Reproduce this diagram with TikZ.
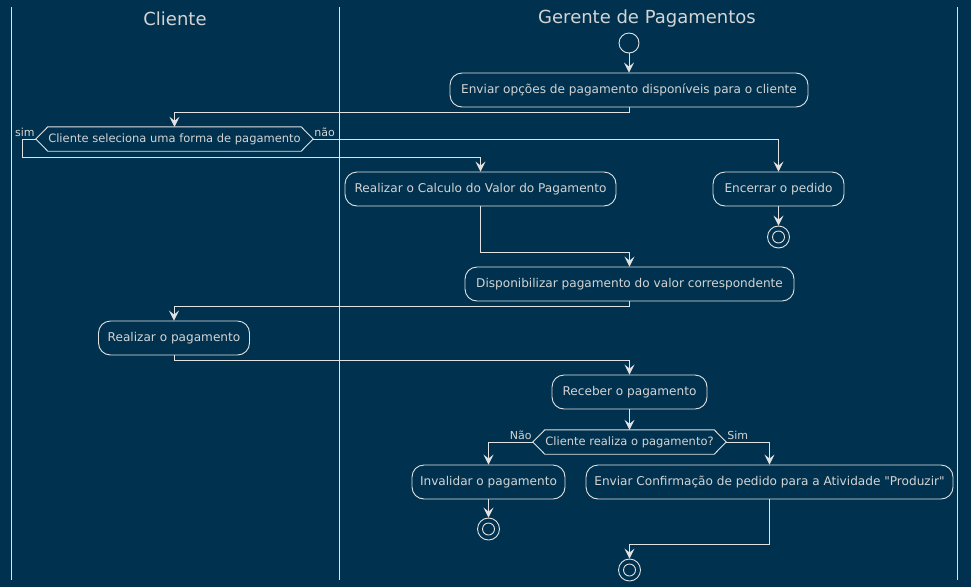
\documentclass[tikz,border=0pt]{standalone}
\usepackage{fontspec}
\setmainfont{DejaVu Sans}[Ligatures=TeXOff]
\usetikzlibrary{arrows.meta,calc}
\definecolor{bg}{HTML}{00324F}
\definecolor{ln}{HTML}{E2E2E2}
\definecolor{tx}{HTML}{D4D4D4}
\tikzset{
  act/.style={draw=ln, line width=0.9pt, rounded corners=12pt, minimum height=34pt, inner sep=0pt, text=tx, font=\fontsize{12.1}{14}\selectfont},
  dec/.style={minimum height=24pt, inner sep=0pt, text=tx, font=\fontsize{11.5}{13}\selectfont},
  hexa/.style={draw=ln, line width=0.9pt},
  lbl/.style={inner sep=1pt, text=tx, font=\fontsize{11}{13}\selectfont},
  arr/.style={draw=ln, line width=0.9pt, -{Stealth[length=10pt,width=10pt,inset=4pt]}},
  lane/.style={draw=ln, line width=0.9pt},
  title/.style={text=tx, font=\fontsize{18}{20}\selectfont},
  startc/.style={circle, draw=ln, line width=0.9pt, minimum size=20pt, inner sep=0pt},
  endc/.style={circle, draw=ln, line width=0.9pt, minimum size=22pt, inner sep=0pt},
  endi/.style={circle, draw=ln, line width=0.9pt, minimum size=12pt, inner sep=0pt},
}
\begin{document}
\begin{tikzpicture}[x=1pt,y=-1pt]
\fill[bg] (0,0) rectangle (971,587);
\useasboundingbox (0,0) rectangle (971,587);
% lanes
\coordinate (l1t) at (11,7); \coordinate (l1b) at (11,580);
\coordinate (l2t) at (339,7); \coordinate (l2b) at (339,580);
\coordinate (l3t) at (957,7); \coordinate (l3b) at (957,580);
\draw[lane] (l1t) -- (l1b);
\draw[lane] (l2t) -- (l2b);
\draw[lane] (l3t) -- (l3b);
\node[title] (t1) at (175,18.5) {Cliente};
\node[title] (t2) at (647,18.5) {Gerente de Pagamentos};
% nodes
\node[startc] (start) at (629,43) {};
\node[act, minimum width=358pt] (b1) at (629,90) {Enviar opções de pagamento disponíveis para o cliente};
\node[dec, minimum width=277pt] (d1) at (174.5,139) {Cliente seleciona uma forma de pagamento};
\draw[hexa] (d1.west) -- ([xshift=12pt]d1.north west) -- ([xshift=-12pt]d1.north east) -- (d1.east) -- ([xshift=-12pt]d1.south east) -- ([xshift=12pt]d1.south west) -- cycle;
\node[act, minimum width=271pt] (calc) at (480.5,189) {Realizar o Calculo do Valor do Pagamento};
\node[act, minimum width=131pt] (enc) at (778.5,189) {Encerrar o pedido};
\node[endc] (e1) at (778.5,237) {};
\node[endi] (e1i) at (778.5,237) {};
\node[act, minimum width=329pt] (disp) at (629.5,284) {Disponibilizar pagamento do valor correspondente};
\node[act, minimum width=151pt] (real) at (174,338) {Realizar o pagamento};
\node[act, minimum width=155pt] (rec) at (629.5,392) {Receber o pagamento};
\node[dec, minimum width=193pt] (d2) at (629.5,442) {Cliente realiza o pagamento?};
\draw[hexa] (d2.west) -- ([xshift=12pt]d2.north west) -- ([xshift=-12pt]d2.north east) -- (d2.east) -- ([xshift=-12pt]d2.south east) -- ([xshift=12pt]d2.south west) -- cycle;
\node[act, minimum width=153pt] (inv) at (488.5,482) {Invalidar o pagamento};
\node[endc] (e2) at (488.5,529) {};
\node[endi] (e2i) at (488.5,529) {};
\node[act, minimum width=367pt] (conf) at (769.5,482) {Enviar Confirmação de pedido para a Atividade "Produzir"};
\node[endc] (e3) at (629.5,570) {};
\node[endi] (e3i) at (629.5,570) {};
% labels
\node[lbl, anchor=south east] (lsim) at ([yshift=1pt]d1.west) {sim};
\node[lbl, anchor=south west] (lnao) at ([yshift=1pt]d1.east) {não};
\node[lbl, anchor=south east] (lNao) at ([yshift=1pt]d2.west) {Não};
\node[lbl, anchor=south west] (lSim) at ([yshift=1pt]d2.east) {Sim};
% connectors
\draw[arr] (start) -- (b1);
\draw[arr] (b1.south) -- ++(0,5) -| (d1.north);
\draw[arr] (d1.west) -- ++(-13,0) -- ++(0,18) -| (calc.north);
\draw[arr] (d1.east) -| (enc.north);
\draw[arr] (enc) -- (e1);
\draw[arr] (calc.south) -- ++(0,46) -| (disp.north);
\draw[arr] (disp.south) -- ++(0,5) -| (real.north);
\draw[arr] (real.south) -- ++(0,5) -| (rec.north);
\draw[arr] (rec) -- (d2);
\draw[arr] (d2.west) -| (inv.north);
\draw[arr] (d2.east) -| (conf.north);
\draw[arr] (inv) -- (e2);
\draw[arr] (conf.south) -- ++(0,45) -| (e3.north);
\end{tikzpicture}
\end{document}
